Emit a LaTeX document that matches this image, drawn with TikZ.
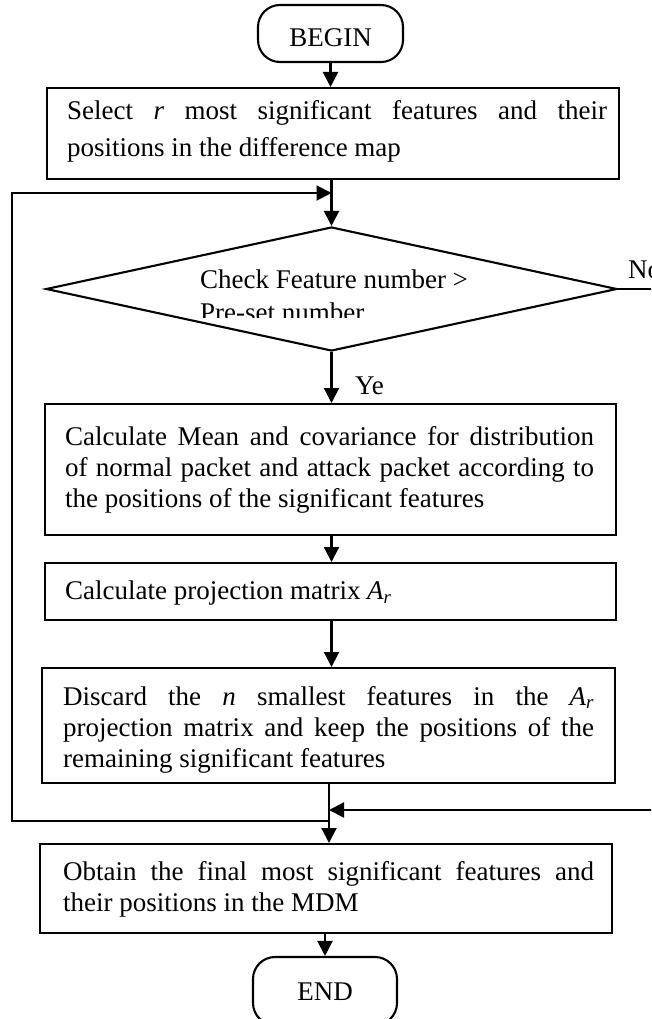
\documentclass[tikz,border=0pt]{standalone}
\usepackage{fontspec}
\setmainfont{Liberation Serif}
\usetikzlibrary{shapes.geometric,arrows.meta,calc}
\newcommand\flowfont{\fontsize{27}{31}\selectfont}

\begin{document}
\begin{tikzpicture}[x=1pt,y=-1pt,
  line width=2.1pt,
  flow/.style={-{Triangle[length=15pt,width=15pt]}},
  stepbox/.style={draw, rectangle, anchor=north west, inner sep=0},
  term/.style={draw, rounded corners=22pt, minimum width=145pt, minimum height=57pt,
    inner sep=0, text height=26pt, text depth=0pt, font=\flowfont},
  body/.style={anchor=north west, inner sep=0, text width=#1, align=justify, font=\flowfont},
  tag/.style={anchor=base west, inner sep=0, font=\flowfont},
]
\clip (0,0) rectangle (651,1019);

% terminators
\node[term] (begin) at (330.5,33.5) {BEGIN};
\node[term, minimum width=144pt, minimum height=68pt, text height=19pt] (end) at (325,991) {END};

% process boxes
\node[stepbox, minimum width=572pt, minimum height=91pt] (sel) at (46,87) {};
\node[stepbox, minimum width=571pt, minimum height=131pt] (calc) at (44,403) {};
\node[stepbox, minimum width=571pt, minimum height=57pt] (proj) at (44,562) {};
\node[stepbox, minimum width=573pt, minimum height=115pt] (disc) at (41,667) {};
\node[stepbox, minimum width=572pt, minimum height=89pt] (obt) at (39,843) {};

% decision
\node[draw, diamond, inner sep=0, aspect=4.6, minimum width=571pt, minimum height=124pt]
  (dia) at (331.5,289) {};

% texts of the boxes
\node[body=540pt, font=\fontsize{27}{37}\selectfont] (tsel) at (66,99.5)
  {Select \textit{r} most significant features and their\linebreak positions in the difference map};
\node[body=529pt] (tcalc) at (64,425.5)
  {Calculate Mean and covariance for distribution\linebreak of normal packet and attack packet according to\linebreak the positions of the significant features};
\node[body=529pt] (tproj) at (64,580)
  {Calculate projection matrix \textit{A\textsubscript{r}}};
\node[body=531pt] (tdisc) at (62,685)
  {Discard the \textit{n} smallest features in the \textit{A\textsubscript{r}}\linebreak projection matrix and keep the positions of the\linebreak remaining significant features};
\node[body=531pt] (tobt) at (62,860)
  {Obtain the final most significant features and\linebreak their positions in the MDM};

% text of the decision, its second line cut off at the bottom
\node[tag] (qa) at (199,288) {Check Feature number >};
\begin{scope}
  \clip (150,295) rectangle (500,317);
  \node[tag] (qb) at (199,321) {Pre-set number};
\end{scope}

% branch labels
\node[tag] (yes) at (354,394) {Ye};
\node[tag] (no) at (627,278) {No};

% junctions on the main line
\coordinate (jt) at (331.5,193);
\coordinate (jr) at (329,810);
\coordinate (jb) at (329,821);
\coordinate (lt) at (12,193);
\coordinate (lb) at (12,821);
\coordinate (nout) at (660,289);
\coordinate (rin) at (660,810);

% main flow
\draw[flow] (begin) -- (sel.north -| begin.south);
\draw[flow] (sel.south -| jt) -- (dia.north);
\draw[flow] (dia.south) -- (calc.north -| dia.south);
\draw[flow] (calc.south -| dia.south) -- (proj.north -| dia.south);
\draw[flow] (proj.south -| dia.south) -- (disc.north -| dia.south);
\draw[flow] (disc.south -| jb) -- (obt.north -| jb);
\draw[flow] (obt.south -| end.north) -- (end.north);

% loop back to the decision
\draw[flow] (jb) -- (lb) -- (lt) -- (jt);

% "No" branch, leaving and returning at the right
\draw (dia.east) -- (nout);
\draw[flow] (rin) -- (jr);
\end{tikzpicture}
\end{document}
